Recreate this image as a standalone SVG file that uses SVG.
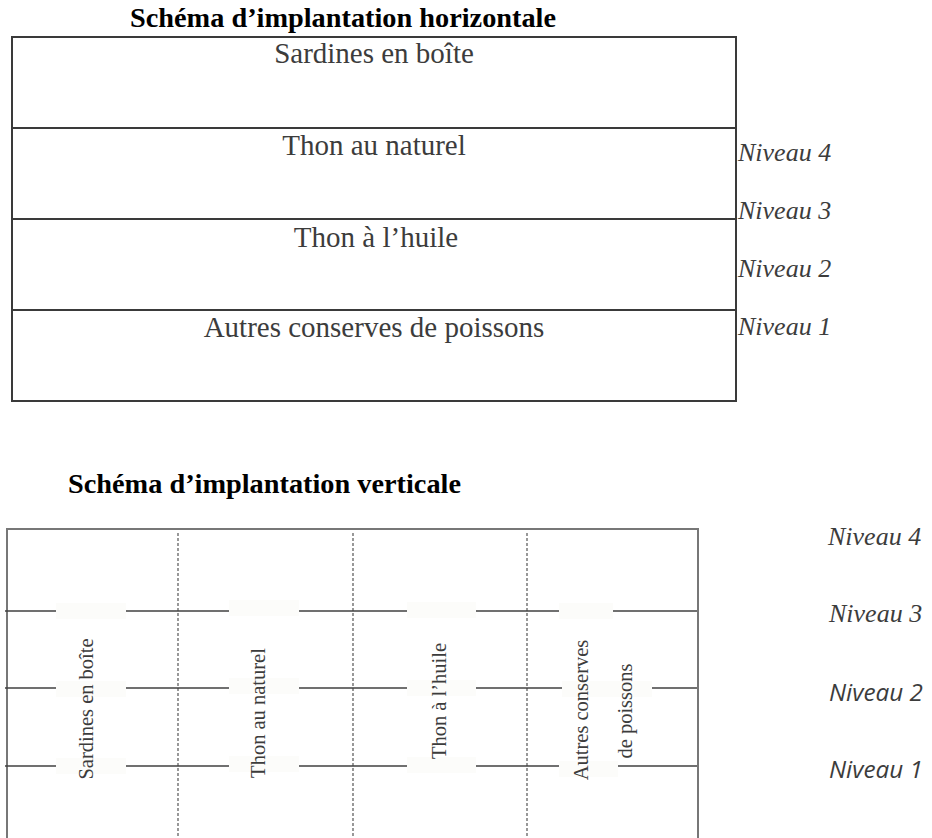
<svg xmlns="http://www.w3.org/2000/svg" width="932" height="838" viewBox="0 0 932 838">
<style>
.title{font-family:"Liberation Serif","Times New Roman",serif;font-weight:bold;font-size:28.3px;fill:#000}
.htxt{font-family:"Liberation Serif","Times New Roman",serif;font-size:29px;fill:#3c3c3c;text-anchor:middle}
.vtxt{font-family:"Liberation Serif","Times New Roman",serif;font-size:20.5px;fill:#3c3c3c;text-anchor:middle}
.niv{font-family:"Liberation Serif","Times New Roman",serif;font-style:italic;font-size:26px;fill:#3c3c3c}
.nivs{font-family:"Open Sans","Noto Sans",sans-serif;font-style:italic;font-size:23px;fill:#3c3c3c}
.hline{stroke:#3a3a3a;stroke-width:2;fill:none}
.vline{stroke:#404040;stroke-width:1.5;fill:none}
.frame{stroke:#777;stroke-width:2;fill:none}
.dash{stroke:#555;stroke-width:1.2;stroke-dasharray:3 2;fill:none}
.patch{fill:#fcfcfa;stroke:none}
</style>
<rect x="0" y="0" width="932" height="838" fill="#fff"/>

<!-- Horizontal layout -->
<g id="titre-horizontal">
<text class="title" x="130" y="27">Schéma d’implantation horizontale</text>
</g>
<g id="rayon-horizontal">
<rect class="hline" x="12" y="37" width="724" height="364"/>
<line class="hline" x1="12" y1="128" x2="736" y2="128"/>
<line class="hline" x1="12" y1="219" x2="736" y2="219"/>
<line class="hline" x1="12" y1="310" x2="736" y2="310"/>
</g>
<g id="h-sardines"><text class="htxt" x="374" y="63">Sardines en boîte</text></g>
<g id="h-thon-naturel"><text class="htxt" x="374" y="155">Thon au naturel</text></g>
<g id="h-thon-huile"><text class="htxt" x="376" y="247">Thon à l’huile</text></g>
<g id="h-autres"><text class="htxt" x="374" y="337">Autres conserves de poissons</text></g>
<g id="h-niveaux">
<text class="niv" x="738" y="161">Niveau 4</text>
<text class="niv" x="738" y="219">Niveau 3</text>
<text class="niv" x="738" y="277">Niveau 2</text>
<text class="niv" x="738" y="335">Niveau 1</text>
</g>

<!-- Vertical layout -->
<g id="titre-vertical">
<text class="title" x="68" y="493">Schéma d’implantation verticale</text>
</g>
<g id="rayon-vertical">
<path class="frame" d="M7,840 V529 H698 V840"/>
<line class="dash" x1="178" y1="533" x2="178" y2="838"/>
<line class="dash" x1="353" y1="533" x2="353" y2="838"/>
<line class="dash" x1="527" y1="533" x2="527" y2="838"/>
<line class="vline" x1="5" y1="611" x2="697" y2="611"/>
<line class="vline" x1="5" y1="688" x2="697" y2="688"/>
<line class="vline" x1="5" y1="766" x2="697" y2="766"/>
</g>
<g id="v-sardines">
<rect class="patch" x="56" y="603" width="70" height="16"/>
<rect class="patch" x="56" y="681" width="70" height="16"/>
<rect class="patch" x="56" y="758" width="70" height="16"/>
<text class="vtxt" transform="translate(93,709) rotate(-90)">Sardines en boîte</text>
</g>
<g id="v-thon-naturel">
<rect class="patch" x="229" y="600" width="70" height="16"/>
<rect class="patch" x="229" y="678" width="70" height="16"/>
<rect class="patch" x="229" y="756" width="70" height="16"/>
<text class="vtxt" transform="translate(265,713) rotate(-90)">Thon au naturel</text>
</g>
<g id="v-thon-huile">
<rect class="patch" x="407" y="602" width="69" height="16"/>
<rect class="patch" x="407" y="680" width="69" height="16"/>
<rect class="patch" x="407" y="757" width="69" height="16"/>
<text class="vtxt" transform="translate(446,701) rotate(-90)">Thon à l’huile</text>
</g>
<g id="v-autres">
<rect class="patch" x="559" y="603" width="54" height="16"/>
<rect class="patch" x="562" y="681" width="90" height="16"/>
<rect class="patch" x="559" y="761" width="59" height="16"/>
<text class="vtxt" transform="translate(588,710) rotate(-90)">Autres conserves</text>
<text class="vtxt" transform="translate(632,711) rotate(-90)">de poissons</text>
</g>
<g id="v-niveaux">
<text class="niv" x="828" y="545">Niveau 4</text>
<text class="niv" x="829" y="622">Niveau 3</text>
<text class="nivs" x="829" y="701" textLength="94" lengthAdjust="spacingAndGlyphs">Niveau 2</text>
<text class="nivs" x="829" y="778" textLength="94" lengthAdjust="spacingAndGlyphs">Niveau 1</text>
</g>
</svg>
